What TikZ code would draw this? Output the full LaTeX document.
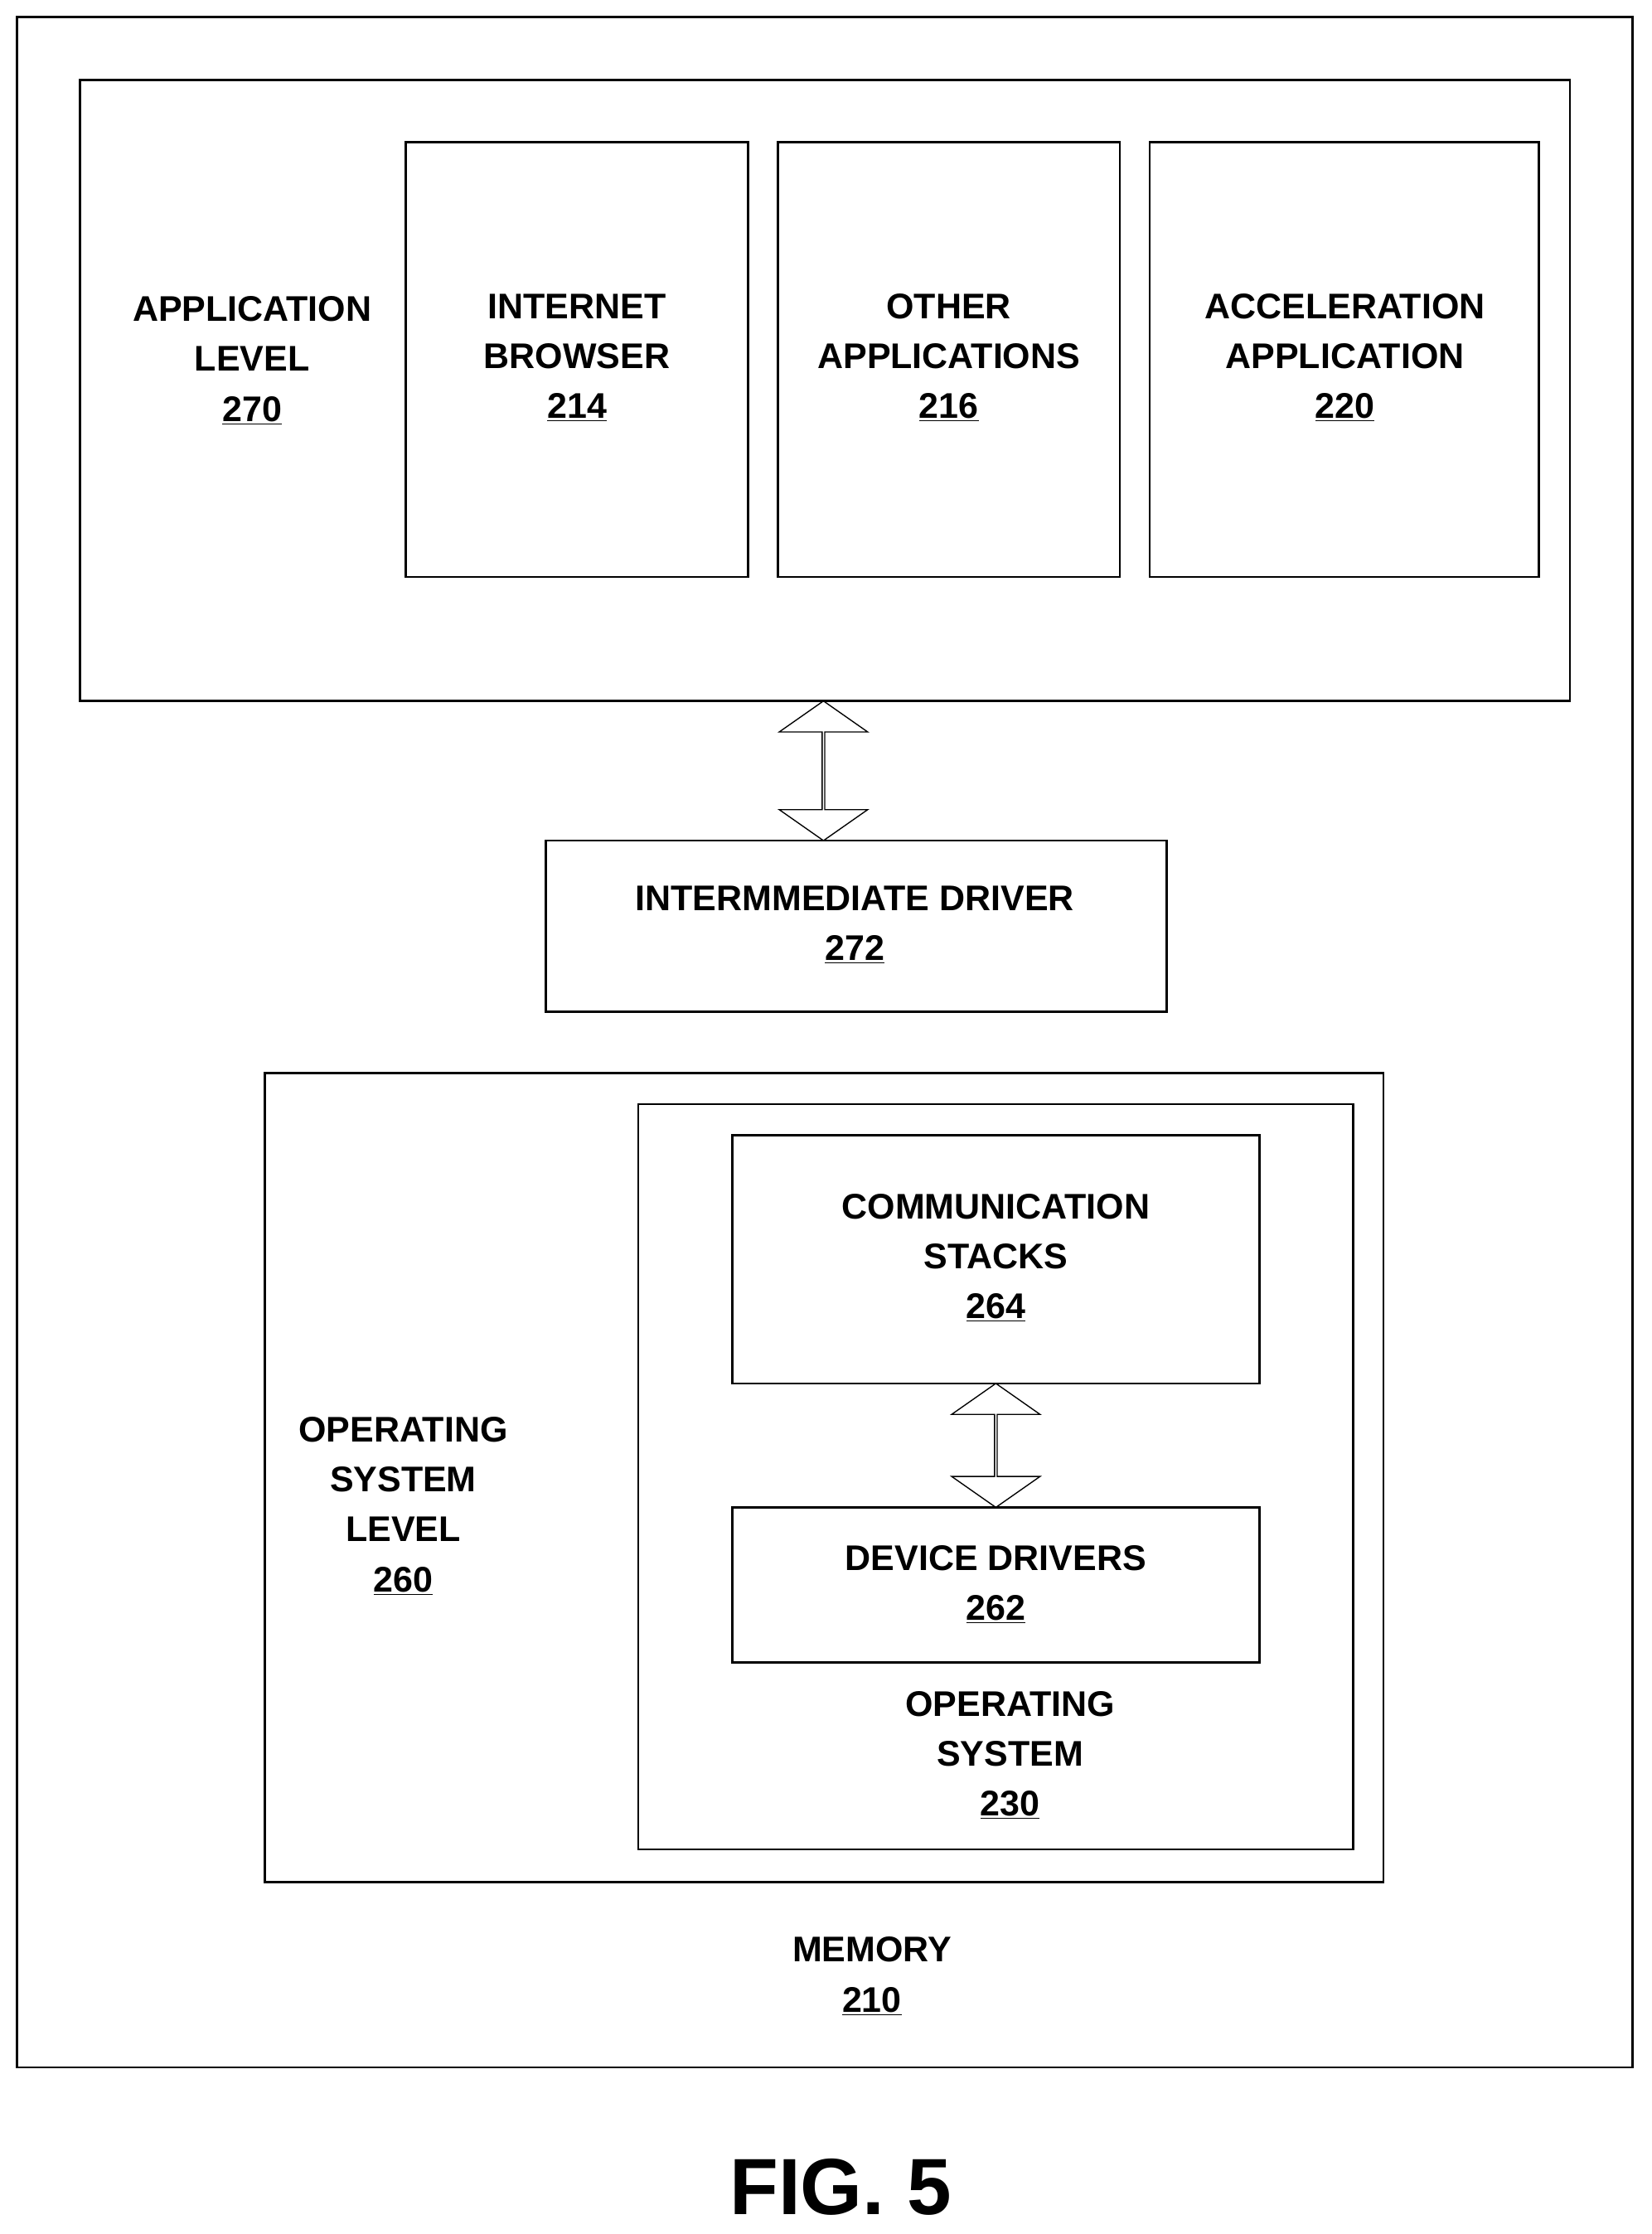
\documentclass[tikz,border=0pt]{standalone}
\usepackage{fontspec}
\setmainfont{Liberation Sans}
\usetikzlibrary{shapes.arrows}
\begin{document}
\begin{tikzpicture}[x=1pt,y=-1pt,
  box/.style={draw,line width=1.6pt},
  lbl/.style={align=center,font=\fontsize{25}{35}\selectfont\bfseries,inner sep=0},
  darr/.style={draw,line width=0.8pt,double arrow,shape border rotate=90,minimum width=62pt,double arrow head extend=13pt,double arrow tip angle=110,inner sep=0}]
\useasboundingbox (0,0) rectangle (1159,1568);
\draw[box] (12,12) rectangle (1146,1451);
\draw[box] (56,56) rectangle (1102,492);
\draw[box] (285,100) rectangle (525,405);
\draw[box] (546,100) rectangle (786,405);
\draw[box] (807,100) rectangle (1080,405);
\node[lbl] (app) at (177,253) {APPLICATION\\LEVEL\\\underline{270}};
\node[lbl] (br) at (405,251) {INTERNET\\BROWSER\\\underline{214}};
\node[lbl] (oth) at (666,251) {OTHER\\APPLICATIONS\\\underline{216}};
\node[lbl] (acc) at (944,251) {ACCELERATION\\APPLICATION\\\underline{220}};
\node[darr,minimum height=98pt] (a1) at (578,541) {};
\draw[box] (383,590) rectangle (819,710);
\node[lbl] (int) at (600,649) {INTERMMEDIATE DRIVER\\\underline{272}};
\draw[box] (186,753) rectangle (971,1321);
\draw[box] (448,775) rectangle (950,1298);
\node[lbl] (osl) at (283,1057) {OPERATING\\SYSTEM\\LEVEL\\\underline{260}};
\draw[box] (514,797) rectangle (884,971);
\node[lbl] (cs) at (699,883) {COMMUNICATION\\STACKS\\\underline{264}};
\node[darr,minimum height=87pt] (a2) at (699,1014.5) {};
\draw[box] (514,1058) rectangle (884,1167);
\node[lbl] (dd) at (699,1112) {DEVICE DRIVERS\\\underline{262}};
\node[lbl] (os) at (709,1232) {OPERATING\\SYSTEM\\\underline{230}};
\node[lbl] (mem) at (612,1387) {MEMORY\\\underline{210}};
\node[inner sep=0,font=\fontsize{56}{60}\selectfont\bfseries] (fig) at (590,1535) {FIG. 5};
\end{tikzpicture}
\end{document}
